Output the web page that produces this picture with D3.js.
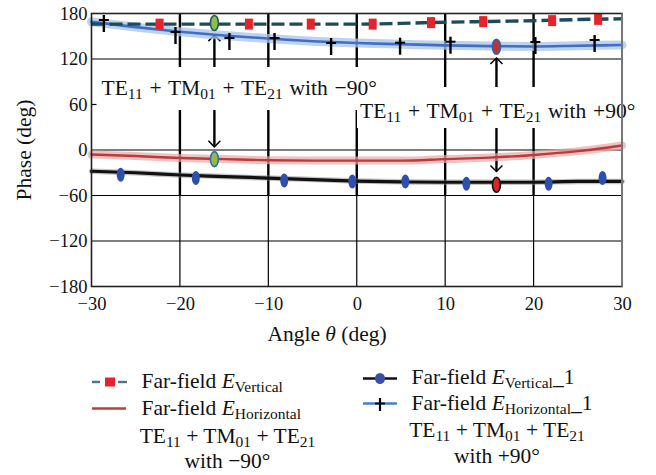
<!DOCTYPE html>
<html>
<head>
<meta charset="utf-8">
<script src="https://cdn.jsdelivr.net/npm/d3@7"></script>
<style>
  html, body { margin: 0; padding: 0; background: #fff; }
  svg { display: block; font-family: "Liberation Serif", "DejaVu Serif", serif; }
</style>
</head>
<body>
<svg id="chart" width="656" height="475"></svg>
<script>
// ---- data -------------------------------------------------------------
const angles = [-30, -25, -20, -15, -10, -5, 0, 5, 10, 15, 20, 25, 30];

// TE11 + TM01 + TE21 with -90 deg
const eVertical   = [166, 166, 166, 166, 166, 166, 166, 167, 168.5, 169.5, 170.5, 172, 173];
const eHorizontal = [-6, -8, -10.5, -12, -13.5, -14, -14, -14, -12, -10, -6.5, -1.5, 6];
// TE11 + TM01 + TE21 with +90 deg
const eVertical1   = [-28, -30, -33, -35, -37, -39, -41, -42, -42.5, -42.5, -42.5, -41.5, -41.5];
const eHorizontal1 = [169, 162, 156, 151, 147, 143.5, 141, 139.5, 138, 137, 136.5, 137.5, 138.5];

// marker positions along each curve
const squareX = [-22.3, -12.2, -5.2, 1.8, 8.4, 14.3, 22.1, 27.3];
const squareY = [166, 166, 166, 166, 168, 169.3, 170.6, 172.3];
const dotX = [-26.7, -18.2, -8.2, -0.5, 5.5, 12.4, 21.7, 27.8];
const dotY = [-32.7, -37, -40.2, -41.5, -41.5, -44.6, -44.6, -37];
const crossX = [-28.6, -20.5, -14.4, -9.3, -2.9, 4.9, 10.6, 20.2, 26.9];
const crossY = [171.4, 155.6, 147.7, 147.7, 141.1, 141.5, 142.8, 142.4, 145.1];

// highlighted points and the arrows that point at them
const highlightX = [-16.1, -16.1, 15.8, 15.8];
const highlightY = [167.5, -12, 136.2, -45.9];
const highlightFill = ["#8fbf45", "#9ab83f", "#b03a36", "#d4262b"];
const highlightStroke = ["#1f5a63", "#2d6fb5", "#3a5db5", "#111111"];
const arrowX = [-16.1, 15.8];
const arrowTop = [151.5, 121.3];
const arrowBottom = [4.2, -28.3];

const xTicks = [-30, -20, -10, 0, 10, 20, 30];
const yTicks = [-180, -120, -60, 0, 60, 120, 180];
const gridYValues = [120, 0, -60, -120];
const gridXValues = [-20, -10, 0, 10, 20];

// ---- layout -----------------------------------------------------------
const svg = d3.select("#chart");
const x = d3.scaleLinear().domain([-30, 30]).range([91.5, 622]);
const y = d3.scaleLinear().domain([-180, 180]).range([286.5, 13.5]);
const FONT_TICK = 18.5, FONT_TEXT = 21.5;

// writes a run of text pieces, some of them subscripts
function rich(sel, parts, size) {
  parts.forEach(p => {
    const t = sel.append("tspan").text(p.t);
    if (p.sub) {
      t.attr("font-size", size * 0.72).attr("dy", size * 0.2);
    } else if (p.after) {
      t.attr("dy", -size * 0.2);
    }
    if (p.it) t.attr("font-style", "italic");
  });
  return sel;
}

// ---- grid ---------------------------------------------------------------
const grid = svg.append("g");
grid.selectAll("line.gy").data(gridYValues).join("line")
  .attr("x1", x(-30)).attr("x2", x(30))
  .attr("y1", d => y(d)).attr("y2", d => y(d))
  .attr("stroke", "#000").attr("stroke-width", 1.2);
// vertical grid: heavy in the upper part, thin below -60
grid.selectAll("line.gxu").data(gridXValues).join("line")
  .attr("x1", d => x(d)).attr("x2", d => x(d))
  .attr("y1", y(180)).attr("y2", y(-60))
  .attr("stroke", "#000").attr("stroke-width", 2.4);
grid.selectAll("line.gxl").data(gridXValues).join("line")
  .attr("x1", d => x(d)).attr("x2", d => x(d))
  .attr("y1", y(-60)).attr("y2", y(-180))
  .attr("stroke", "#000").attr("stroke-width", 1.2);
// short inner tick at 60
grid.append("line")
  .attr("x1", x(-30)).attr("x2", x(-30) + 5)
  .attr("y1", y(60)).attr("y2", y(60))
  .attr("stroke", "#000").attr("stroke-width", 1.2);

// ---- arrows -------------------------------------------------------------
const arrows = svg.append("g").attr("stroke", "#000").attr("fill", "none");
arrowX.forEach((ax, i) => {
  const px = x(ax), t = y(arrowTop[i]), b = y(arrowBottom[i]);
  arrows.append("line").attr("x1", px).attr("x2", px).attr("y1", t).attr("y2", b)
    .attr("stroke-width", 2.4);
  arrows.append("path").attr("d", `M${px - 6},${t + 6}L${px},${t}L${px + 6},${t + 6}`)
    .attr("stroke-width", 1.5);
  arrows.append("path").attr("d", `M${px - 6},${b - 6}L${px},${b}L${px + 6},${b - 6}`)
    .attr("stroke-width", 1.5);
});

// ---- annotations over the grid ------------------------------------------
const notes = [
  { x0: 101.5, base: 95, w: 274, sign: "\u221290\u00b0", top: 67, h: 43 },
  { x0: 360, base: 118, w: 272, sign: "+90\u00b0", top: 87, h: 41 }
];
// white backing first, so neither box hides the other label
notes.forEach(n => {
  svg.append("rect").attr("x", n.x0 - 3).attr("y", n.top).attr("width", n.w)
    .attr("height", n.h).attr("fill", "#fff");
});
notes.forEach(n => {
  const t = svg.append("text").attr("x", n.x0).attr("y", n.base)
    .attr("font-size", FONT_TEXT).attr("word-spacing", 1.4).attr("fill", "#111");
  rich(t, [{ t: "TE" }, { t: "11", sub: true }, { t: " + TM", after: true }, { t: "01", sub: true },
           { t: " + TE", after: true }, { t: "21", sub: true }, { t: " with " + n.sign, after: true }], FONT_TEXT);
});

// ---- curves -------------------------------------------------------------
const line = vals => d3.line().x((d, i) => x(angles[i])).y(d => y(d)).curve(d3.curveMonotoneX)(vals);
const curves = svg.append("g").attr("fill", "none").attr("stroke-linecap", "round");

// soft halos
curves.append("path").attr("d", line(eHorizontal)).attr("stroke", "#e9a7a7")
  .attr("stroke-width", 8).attr("opacity", 0.7);
curves.append("path").attr("d", line(eHorizontal1)).attr("stroke", "#a8c2ea")
  .attr("stroke-width", 9).attr("opacity", 0.75);
curves.append("path").attr("d", line(eVertical1)).attr("stroke", "#8a8a8a")
  .attr("stroke-width", 5.5).attr("opacity", 0.5);
// cores
curves.append("path").attr("d", line(eHorizontal)).attr("stroke", "#bb3a3a").attr("stroke-width", 2.4);
curves.append("path").attr("d", line(eHorizontal1)).attr("stroke", "#3d6fc6").attr("stroke-width", 2.6);
curves.append("path").attr("d", line(eVertical1)).attr("stroke", "#111").attr("stroke-width", 3.2);
curves.append("path").attr("d", line(eVertical)).attr("stroke", "#1c4c59")
  .attr("stroke-width", 3.4).attr("stroke-linecap", "butt").attr("stroke-dasharray", "13,5");

// ---- markers ------------------------------------------------------------
svg.append("g").selectAll("rect").data(squareX).join("rect")
  .attr("x", d => x(d) - 4).attr("y", (d, i) => y(squareY[i]) - 5.5)
  .attr("width", 8).attr("height", 11).attr("fill", "#e8222a");

svg.append("g").selectAll("ellipse").data(dotX).join("ellipse")
  .attr("cx", d => x(d)).attr("cy", (d, i) => y(dotY[i]))
  .attr("rx", 4).attr("ry", 7).attr("fill", "#2f4fae");

const crosses = svg.append("g").attr("stroke", "#000");
crossX.forEach((cx, i) => {
  const px = x(cx), py = y(crossY[i]);
  crosses.append("line").attr("x1", px).attr("x2", px).attr("y1", py - 5).attr("y2", py + 12)
    .attr("stroke-width", 2.4);
  crosses.append("line").attr("x1", px - 5).attr("x2", px + 5).attr("y1", py).attr("y2", py)
    .attr("stroke-width", 2);
});

svg.append("g").selectAll("ellipse").data(highlightX).join("ellipse")
  .attr("cx", d => x(d)).attr("cy", (d, i) => y(highlightY[i]))
  .attr("rx", 4).attr("ry", 7.5)
  .attr("fill", (d, i) => highlightFill[i])
  .attr("stroke", (d, i) => highlightStroke[i]).attr("stroke-width", 1.6);

// ---- frame and axes -----------------------------------------------------
svg.append("rect").attr("x", x(-30)).attr("y", y(180))
  .attr("width", x(30) - x(-30)).attr("height", y(-180) - y(180))
  .attr("fill", "none").attr("stroke", "#222").attr("stroke-width", 1.6);
svg.append("line").attr("x1", x(30)).attr("x2", x(30)).attr("y1", y(180)).attr("y2", y(-180))
  .attr("stroke", "#777").attr("stroke-width", 2);

const xAxis = svg.append("g").attr("transform", `translate(0,${y(-180)})`)
  .call(d3.axisBottom(x).tickValues(xTicks).tickSize(0).tickPadding(10)
    .tickFormat(d => d < 0 ? "\u2212" + Math.abs(d) : d));
const yAxis = svg.append("g").attr("transform", `translate(${x(-30)},0)`)
  .call(d3.axisLeft(y).tickValues(yTicks).tickSize(0).tickPadding(4)
    .tickFormat(d => d < 0 ? "\u2212" + Math.abs(d) : d));
[xAxis, yAxis].forEach(a => {
  a.select(".domain").remove();
  a.selectAll("text").attr("font-family", "Liberation Serif, serif")
    .attr("font-size", FONT_TICK).attr("fill", "#111");
});

svg.append("text").attr("x", 327).attr("y", 341).attr("text-anchor", "middle")
  .attr("font-size", FONT_TEXT).attr("fill", "#111")
  .call(t => rich(t, [{ t: "Angle " }, { t: "\u03b8", it: true }, { t: " (deg)" }], FONT_TEXT));
svg.append("text").attr("transform", "translate(31,150) rotate(-90)").attr("text-anchor", "middle")
  .attr("font-size", FONT_TEXT).attr("fill", "#111").text("Phase (deg)");

// ---- legend -------------------------------------------------------------
const legend = svg.append("g").attr("font-size", FONT_TEXT).attr("fill", "#111");

// E vertical: dashes with a square
legend.append("line").attr("x1", 92).attr("x2", 100).attr("y1", 382).attr("y2", 382)
  .attr("stroke", "#4f7480").attr("stroke-width", 2.4);
legend.append("line").attr("x1", 118).attr("x2", 127).attr("y1", 382).attr("y2", 382)
  .attr("stroke", "#4f7480").attr("stroke-width", 2.4);
legend.append("rect").attr("x", 105).attr("y", 377.5).attr("width", 10).attr("height", 9)
  .attr("fill", "#e8222a");
// E horizontal: plain red line
legend.append("line").attr("x1", 92).attr("x2", 126).attr("y1", 408.5).attr("y2", 408.5)
  .attr("stroke", "#b94040").attr("stroke-width", 2.6);
// E vertical_1: black line with a blue dot
legend.append("line").attr("x1", 363).attr("x2", 397).attr("y1", 378.5).attr("y2", 378.5)
  .attr("stroke", "#111").attr("stroke-width", 2.6);
legend.append("ellipse").attr("cx", 380).attr("cy", 378.5).attr("rx", 5).attr("ry", 5.5)
  .attr("fill", "#3a4fa8");
// E horizontal_1: blue line with a black cross
legend.append("line").attr("x1", 363).attr("x2", 397).attr("y1", 403.5).attr("y2", 403.5)
  .attr("stroke", "#4a7cc9").attr("stroke-width", 2.6);
legend.append("line").attr("x1", 380).attr("x2", 380).attr("y1", 398).attr("y2", 411)
  .attr("stroke", "#000").attr("stroke-width", 2.2);
legend.append("line").attr("x1", 375).attr("x2", 385).attr("y1", 403.5).attr("y2", 403.5)
  .attr("stroke", "#000").attr("stroke-width", 1.8);

const entries = [
  { x: 141.5, y: 388, sub: "Vertical", tail: "" },
  { x: 141.5, y: 415, sub: "Horizontal", tail: "" },
  { x: 411.5, y: 383.5, sub: "Vertical", tail: "_1" },
  { x: 411.5, y: 410, sub: "Horizontal", tail: "_1" }
];
entries.forEach(e => {
  const t = legend.append("text").attr("x", e.x).attr("y", e.y);
  const parts = [{ t: "Far-field  " }, { t: "E", it: true }, { t: e.sub, sub: true }];
  if (e.tail) parts.push({ t: e.tail, after: true });
  rich(t, parts, FONT_TEXT);
});

const captions = [
  { cx: 227.5, y1: 442.5, y2: 468, sign: "\u221290\u00b0" },
  { cx: 497, y1: 437, y2: 462.5, sign: "+90\u00b0" }
];
captions.forEach(c => {
  const t = legend.append("text").attr("x", c.cx).attr("y", c.y1).attr("text-anchor", "middle");
  rich(t, [{ t: "TE" }, { t: "11", sub: true }, { t: " + TM", after: true }, { t: "01", sub: true },
           { t: " + TE", after: true }, { t: "21", sub: true }], FONT_TEXT);
  legend.append("text").attr("x", c.cx).attr("y", c.y2).attr("text-anchor", "middle")
    .text("with " + c.sign);
});
</script>
</body>
</html>
